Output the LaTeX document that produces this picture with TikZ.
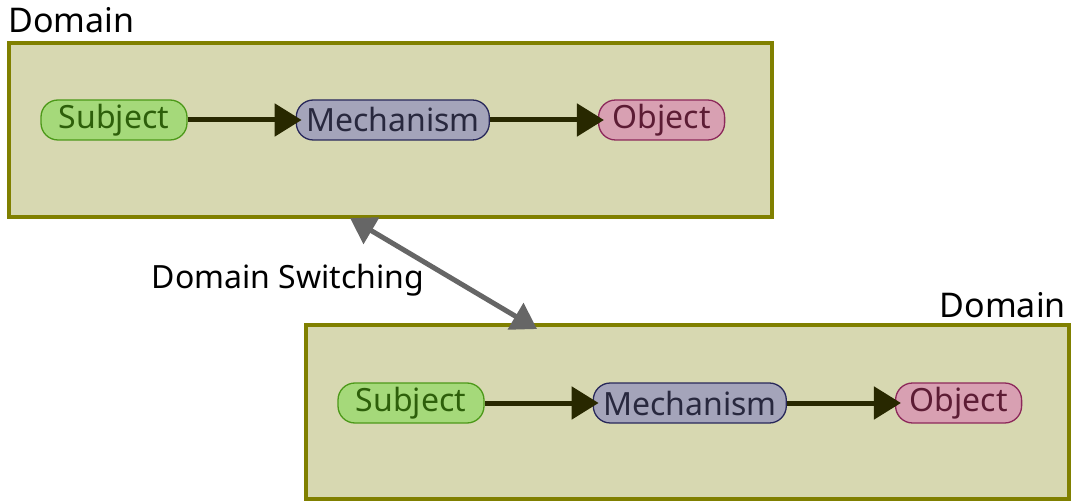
\documentclass[tikz,border=0pt]{standalone}
\usepackage{fontspec}
\setmainfont{Noto Sans}
\usepackage{xcolor}
\usetikzlibrary{arrows.meta, positioning}

\definecolor{domfill}{RGB}{215,216,177}
\definecolor{domline}{RGB}{128,128,0}
\definecolor{subjfill}{RGB}{165,217,122}
\definecolor{subjline}{RGB}{76,153,25}
\definecolor{subjtext}{RGB}{45,95,10}
\definecolor{mechfill}{RGB}{164,164,186}
\definecolor{mechline}{RGB}{40,40,90}
\definecolor{mechtext}{RGB}{40,40,62}
\definecolor{objfill}{RGB}{216,160,178}
\definecolor{objline}{RGB}{140,40,90}
\definecolor{objtext}{RGB}{92,28,52}
\definecolor{flow}{RGB}{40,40,0}
\definecolor{switchgray}{RGB}{102,102,102}

\tikzset{
    domainbox/.style={draw=domline, fill=domfill, line width=4pt, minimum width=763pt, minimum height=174pt},
    domainlabel/.style={inner sep=0pt, font=\fontsize{34}{40}\selectfont},
    pill/.style={rounded corners=17pt, line width=1.3pt, minimum height=40pt, inner xsep=4pt, inner ysep=1pt},
    subj/.style={pill, draw=subjline, fill=subjfill, text=subjtext, minimum width=146pt},
    mech/.style={pill, draw=mechline, fill=mechfill, text=mechtext, minimum width=193pt},
    obj/.style={pill, draw=objline, fill=objfill, text=objtext, minimum width=126pt},
    flowarrow/.style={-{Triangle[length=27pt, width=32pt]}, draw=flow, fill=flow, line width=5pt, shorten >=-6pt},
}

\begin{document}
\begin{tikzpicture}[x=1pt, y=-1pt, node distance=108pt, font=\fontsize{32}{38}\selectfont]
        \useasboundingbox (0,0) rectangle (1073,502);

        % Domains
        \node[domainbox] (dom1) at (390.5,130) {};
        \node[domainbox] (dom2) at (687,412) {};
        \node[domainlabel, anchor=base west] (dom1label) at (8,33) {Domain};
        \node[domainlabel, anchor=base east] (dom2label) at (1066,318) {Domain};

        % Upper chain
        \node[subj] (subj1) at (114,120) {Subject};
        \node[mech, right=of subj1] (mech1) {Mechanism};
        \node[obj, right=of mech1] (obj1) {Object};
        \draw[flowarrow] (subj1) -- (mech1);
        \draw[flowarrow] (mech1) -- (obj1);

        % Lower chain
        \node[subj] (subj2) at (411,403) {Subject};
        \node[mech, right=of subj2] (mech2) {Mechanism};
        \node[obj, right=of mech2] (obj2) {Object};
        \draw[flowarrow] (subj2) -- (mech2);
        \draw[flowarrow] (mech2) -- (obj2);

        % Switching between domains
        \coordinate (switchtop) at (350,218);
        \coordinate (switchbottom) at (537,329);
        \draw[{Triangle[length=25pt, width=30pt]}-{Triangle[length=25pt, width=30pt]}, draw=switchgray, fill=switchgray, line width=5pt] (switchtop) -- (switchbottom);
        \node[anchor=base, inner sep=0pt] (switchlabel) at (288,289) {Domain Switching};
    \end{tikzpicture}
\end{document}
